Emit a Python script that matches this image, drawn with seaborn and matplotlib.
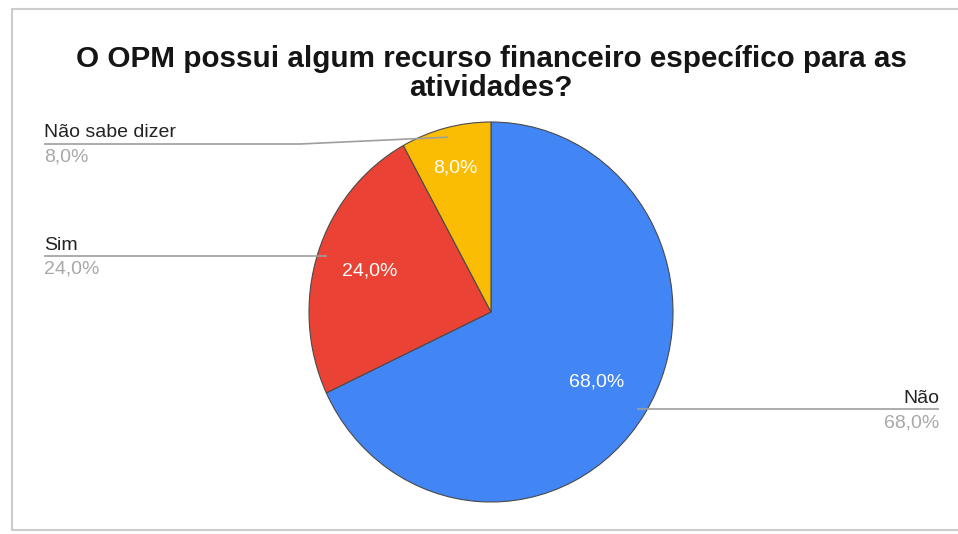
import matplotlib
matplotlib.use("Agg")
import matplotlib.pyplot as plt
from matplotlib.lines import Line2D
import numpy as np
import seaborn as sns

# Survey answers and their shares
categories = ["Não", "Sim", "Não sabe dizer"]
shares = [68.0, 24.0, 8.0]
share_labels = ["68,0%", "24,0%", "8,0%"]
title_lines = ["O OPM possui algum recurso financeiro específico para as", "atividades?"]

sns.set_theme(style="white")
plt.rcParams["font.family"] = ["Liberation Sans", "DejaVu Sans"]

palette = ["#4285F4", "#EA4335", "#FBBC04"]

W, H = 958, 534
fig = plt.figure(figsize=(W / 100, H / 100), dpi=100)
fig.patch.set_facecolor("white")
ax = fig.add_axes([0, 0, 1, 1])

# pie centre and radii in pixels (slightly taller than wide)
CX, CY, RX, RY = 491, 312, 182, 190


def to_data(px, py):
    return (px - CX) / RX, (CY - py) / RY


wedges, _ = ax.pie(
    shares,
    colors=palette,
    startangle=90,
    counterclock=False,
    radius=1,
    wedgeprops=dict(edgecolor="#4a4a4a", linewidth=0.8),
)
ax.set_aspect("auto")
ax.set_xlim((0 - CX) / RX, (W - CX) / RX)
ax.set_ylim((CY - H) / RY, CY / RY)
ax.axis("off")

# percentage labels inside the slices
inner_r = [0.69, 0.70, 0.78]
for w, lab, r in zip(wedges, share_labels, inner_r):
    mid = np.deg2rad((w.theta1 + w.theta2) / 2)
    ax.text(r * np.cos(mid), r * np.sin(mid), lab, color="white",
            fontsize=14, ha="center", va="center")

# outside labels with leader lines
name_color = "#222222"
pct_color = "#a8a8a8"
line_color = "#9e9e9e"
outside = {
    # category: (text x, name baseline, pct baseline, line y or None, elbow x, align)
    "Não sabe dizer": (44, 137, 162, 144, 300, "left"),
    "Sim": (44, 250, 274, None, None, "left"),
    "Não": (939, 403, 427, None, None, "right"),
}
for w, cat, lab in zip(wedges, categories, share_labels):
    tx, nb, pb, ly, ex, align = outside[cat]
    mid = np.deg2rad((w.theta1 + w.theta2) / 2)
    end = (0.95 * np.cos(mid), 0.95 * np.sin(mid))
    if ly is None:
        # straight horizontal leader at the anchor's height
        start = (to_data(tx, 0)[0], end[1])
        xs, ys = [start[0], end[0]], [start[1], end[1]]
    else:
        start = to_data(tx, ly)
        elbow = to_data(ex, ly)
        xs, ys = [start[0], elbow[0], end[0]], [start[1], elbow[1], end[1]]
    ax.plot(xs, ys, color=line_color, lw=1.2, solid_capstyle="butt")
    ax.text(*to_data(tx, nb), cat, color=name_color, fontsize=14,
            ha=align, va="baseline")
    ax.text(*to_data(tx, pb), lab, color=pct_color, fontsize=14,
            ha=align, va="baseline")

# title
for line, base in zip(title_lines, [67, 96]):
    ax.text(*to_data(491, base), line, color="#151515", fontsize=21.3,
            fontweight="bold", ha="center", va="baseline")

# chart frame (left, top, bottom edges)
frame_kw = dict(color="#cccccc", lw=1.5, transform=fig.transFigure)
fig.add_artist(Line2D([12 / W, 12 / W], [1 - 9 / H, 1 - 530 / H], **frame_kw))
fig.add_artist(Line2D([12 / W, 1], [1 - 9 / H, 1 - 9 / H], **frame_kw))
fig.add_artist(Line2D([12 / W, 1], [1 - 530 / H, 1 - 530 / H], **frame_kw))

fig.savefig("out.png", dpi=100, facecolor="white")
